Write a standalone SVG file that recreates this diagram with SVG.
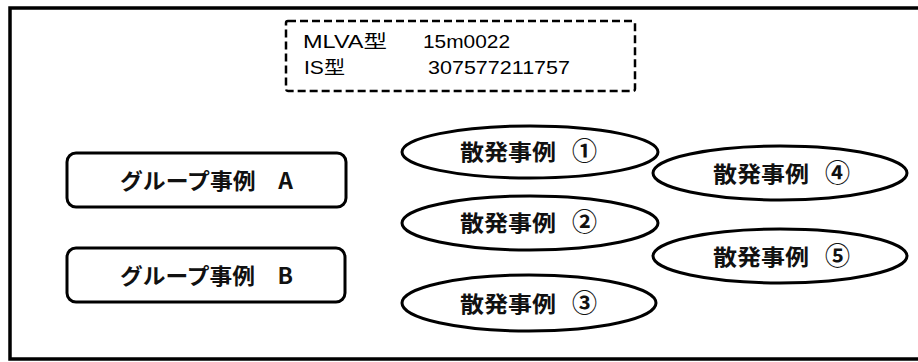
<svg xmlns="http://www.w3.org/2000/svg" width="918" height="362" viewBox="0 0 918 362">
<style>
.frame{fill:none;stroke:#000;stroke-width:3.5}
.dash{fill:#fff;stroke:#000;stroke-width:2.5;stroke-dasharray:8 4}
.box{fill:#fff;stroke:#000;stroke-width:3}
.ell{fill:#fff;stroke:#000;stroke-width:3}
.info{font-family:"Liberation Sans","Noto Sans CJK JP",sans-serif;font-size:18px;fill:#000}
.lbl{font-family:"Noto Sans CJK JP","Noto Sans CJK SC",sans-serif;font-size:22px;font-weight:bold;fill:#111}
.num{font-size:25px;font-weight:bold}
</style>
<rect x="0" y="0" width="918" height="362" fill="#fff"/>
<rect class="frame" x="10" y="8" width="930" height="351"/>
<g id="info">
<rect class="dash" x="286" y="21" width="349" height="70" rx="2"/>
<text class="info" x="303" y="48" textLength="84" lengthAdjust="spacingAndGlyphs">MLVA型</text>
<text class="info" x="423" y="48" textLength="87" lengthAdjust="spacingAndGlyphs">15m0022</text>
<text class="info" x="304" y="74" textLength="41" lengthAdjust="spacingAndGlyphs">IS型</text>
<text class="info" x="428" y="74" textLength="142" lengthAdjust="spacingAndGlyphs">307577211757</text>
</g>
<g id="groupA">
<rect class="box" x="67" y="153" width="279" height="54" rx="9"/>
<text class="lbl" x="120" y="189" textLength="173" lengthAdjust="spacingAndGlyphs">グループ事例　A</text>
</g>
<g id="groupB">
<rect class="box" x="67" y="248" width="278" height="54" rx="9"/>
<text class="lbl" x="120" y="284" textLength="173" lengthAdjust="spacingAndGlyphs">グループ事例　B</text>
</g>
<g id="case1">
<ellipse class="ell" cx="530" cy="152" rx="128" ry="26"/>
<text class="lbl" x="460" y="160"><tspan textLength="96" lengthAdjust="spacingAndGlyphs">散発事例</tspan> <tspan class="num" x="572">①</tspan></text>
</g>
<g id="case2">
<ellipse class="ell" cx="530" cy="223" rx="128" ry="27"/>
<text class="lbl" x="460" y="231"><tspan textLength="96" lengthAdjust="spacingAndGlyphs">散発事例</tspan> <tspan class="num" x="572">②</tspan></text>
</g>
<g id="case3">
<ellipse class="ell" cx="529" cy="303" rx="127" ry="28"/>
<text class="lbl" x="460" y="312"><tspan textLength="96" lengthAdjust="spacingAndGlyphs">散発事例</tspan> <tspan class="num" x="572">③</tspan></text>
</g>
<g id="case4">
<ellipse class="ell" cx="780" cy="173" rx="127" ry="27"/>
<text class="lbl" x="713" y="182"><tspan textLength="96" lengthAdjust="spacingAndGlyphs">散発事例</tspan> <tspan class="num" x="825">④</tspan></text>
</g>
<g id="case5">
<ellipse class="ell" cx="780" cy="256" rx="127" ry="27"/>
<text class="lbl" x="713" y="265"><tspan textLength="96" lengthAdjust="spacingAndGlyphs">散発事例</tspan> <tspan class="num" x="825">⑤</tspan></text>
</g>
<g id="connectors"></g>
</svg>
